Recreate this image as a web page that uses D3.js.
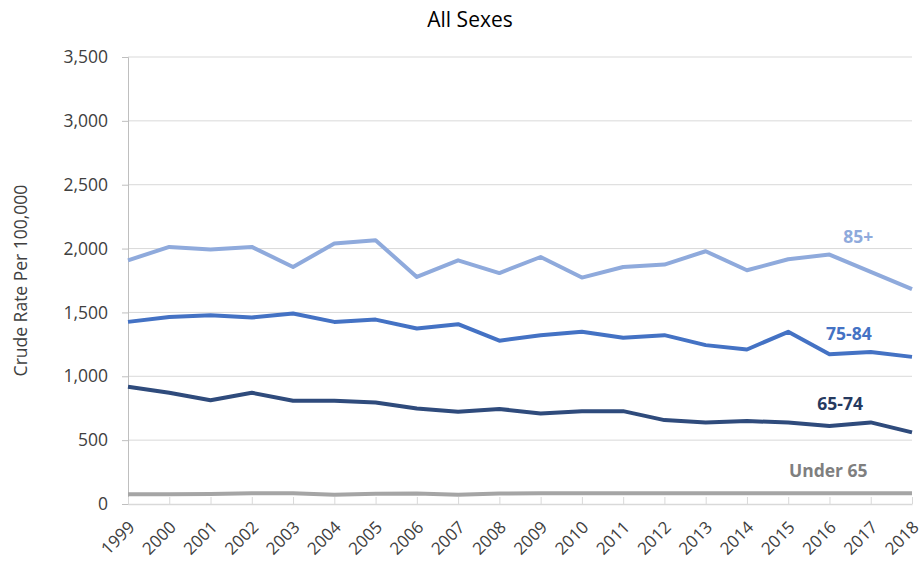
<!DOCTYPE html>
<html>
<head>
<meta charset="utf-8">
<script src="https://cdn.jsdelivr.net/npm/d3@7"></script>
<style>
  html, body { margin: 0; padding: 0; background: #ffffff; }
  svg { display: block; }
</style>
</head>
<body>
<svg id="chart" width="922" height="563"></svg>
<script>
const years = [1999,2000,2001,2002,2003,2004,2005,2006,2007,2008,2009,2010,2011,2012,2013,2014,2015,2016,2017,2018];
const age85plus = [1908,2013,1992,2013,1856,2039,2065,1778,1908,1808,1934,1773,1856,1875,1979,1830,1916,1953,1817,1682];
const age75to84 = [1426,1465,1478,1460,1491,1426,1444,1374,1408,1279,1322,1348,1301,1322,1244,1210,1348,1173,1191,1152];
const age65to74 = [918,871,813,871,808,808,795,748,722,744,709,727,727,657,639,649,639,610,639,561];
const under65 = [76,77,78,84,84,72,80,82,72,82,84,84,84,84,84,84,84,84,84,84];
const yTicks = [0,500,1000,1500,2000,2500,3000,3500];
const seriesNames = ["85+","75-84","65-74","Under 65"];
const labelAnchors = [[2016.7,2041],[2016.47,1283],[2016.26,735],[2015.97,211]];
const title = "All Sexes";
const yLabel = "Crude Rate Per 100,000";

const svg = d3.select("#chart");
const margin = {left:128, right:10, top:57, bottom:59};
const W = 922, H = 563;
const x = d3.scaleLinear().domain([1999,2018]).range([margin.left, W - margin.right]);
const y = d3.scaleLinear().domain([0,3500]).range([H - margin.bottom, margin.top]);
const font = "'Open Sans', 'Noto Sans', sans-serif";

// gridlines
svg.append("g").selectAll("line").data(yTicks.filter(d=>d>0)).join("line")
  .attr("x1", x(1999)).attr("x2", x(2018))
  .attr("y1", d=>y(d)).attr("y2", d=>y(d))
  .attr("stroke", "#d9d9d9").attr("stroke-width", 1);

// y axis
const yAxis = svg.append("g").attr("transform", `translate(${x(1999)},0)`)
  .call(d3.axisLeft(y).tickValues(yTicks).tickFormat(d3.format(",")).tickSize(6).tickPadding(14));
yAxis.attr("font-size", null).attr("font-family", null);
yAxis.select(".domain").attr("stroke", "#bfbfbf");
yAxis.selectAll(".tick line").attr("stroke", "#bfbfbf");
yAxis.selectAll("text").attr("font-family", font).style("font-size", "17.5px").attr("fill", "#404040");

// x axis
const xAxis = svg.append("g").attr("transform", `translate(0,${y(0)})`)
  .call(d3.axisBottom(x).tickValues(years).tickFormat(d3.format("d")).tickSizeInner(-7).tickSizeOuter(0).tickPadding(10));
xAxis.attr("font-size", null).attr("font-family", null);
xAxis.select(".domain").attr("stroke", "#d9d9d9").attr("stroke-width", 1.5);
xAxis.selectAll(".tick line").attr("stroke", "#d9d9d9");
xAxis.selectAll("text")
  .attr("font-family", font).style("font-size", "17px").attr("fill", "#404040")
  .attr("text-anchor", "end")
  .attr("dy", "0.35em")
  .attr("transform", "translate(-4,13) rotate(-45)");

// lines
const colors = ["#8faadc","#4472c4","#2f4b7c","#a5a5a5"];
const labelColors = ["#8faadc","#4472c4","#263a5f","#7f7f7f"];
const allSeries = [age85plus, age75to84, age65to74, under65];
const line = d3.line().x((d,i)=>x(years[i])).y(d=>y(d));
[3,2,1,0].forEach(k => {
  svg.append("path").datum(allSeries[k])
    .attr("d", line)
    .attr("fill", "none")
    .attr("stroke", colors[k])
    .attr("stroke-width", 4)
    .attr("stroke-linejoin", "round");
});

// series labels
seriesNames.forEach((n,k) => {
  svg.append("text")
    .attr("x", x(labelAnchors[k][0])).attr("y", y(labelAnchors[k][1]))
    .attr("text-anchor", "middle")
    .attr("font-family", font).style("font-size", "17.5px").attr("font-weight", "bold")
    .attr("fill", labelColors[k])
    .text(n);
});

// title
svg.append("text").attr("x", 470).attr("y", 27).attr("text-anchor", "middle")
  .attr("font-family", font).style("font-size", "21px").attr("fill", "#000")
  .text(title);

// y label
svg.append("text").attr("transform", `translate(27,${(y(0)+y(3500))/2}) rotate(-90)`)
  .attr("text-anchor", "middle")
  .attr("font-family", font).style("font-size", "17.5px").attr("fill", "#404040")
  .text(yLabel);
</script>
</body>
</html>
